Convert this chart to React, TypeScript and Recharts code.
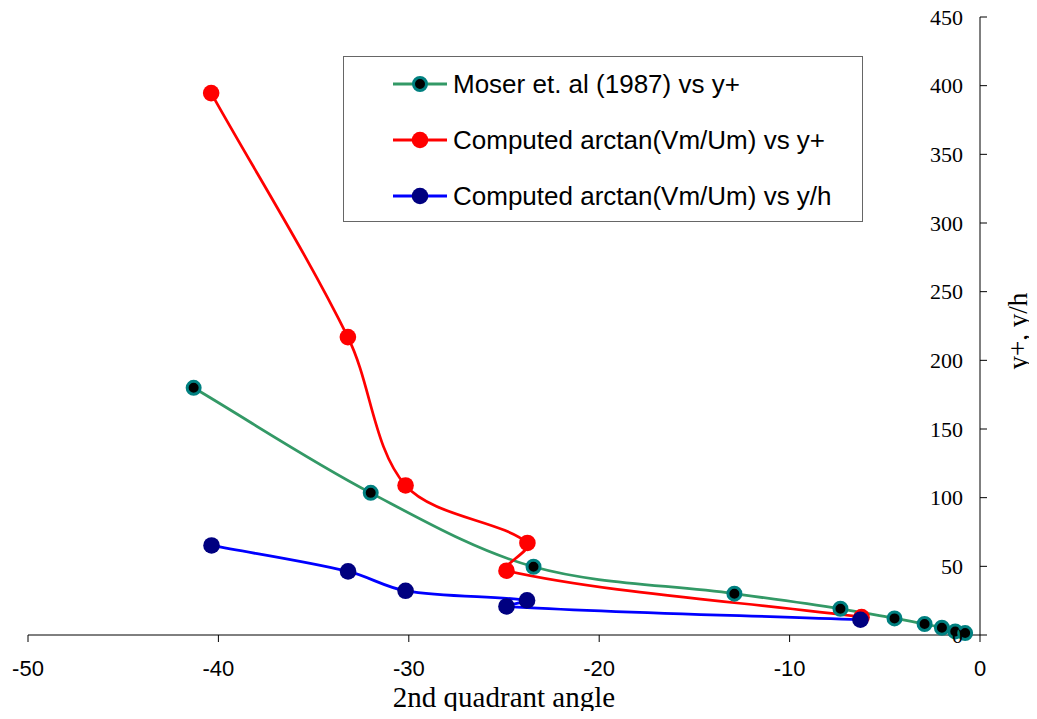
import React from 'react';
import { ComposedChart, Line, XAxis, YAxis, Legend } from 'recharts';

// angle (deg) vs y+ / y/h
const moserAngle = [-41.3, -32.0, -23.45, -12.9, -7.33, -4.49, -2.91, -2.0, -1.3, -0.78];
const moserY = [180, 103.5, 49.7, 30.1, 19.1, 12.1, 8.0, 5.3, 2.6, 1.4];

const plusAngle = [-40.38, -33.2, -30.17, -23.77, -24.87, -6.22];
const plusY = [394.6, 216.9, 108.9, 67, 46.8, 13];

const hAngle = [-40.36, -33.19, -30.17, -23.79, -24.87, -6.28];
const hY = [65.2, 46.3, 32.2, 25.2, 20.8, 11.1];

const xTicks = [-50, -40, -30, -20, -10, 0];
const yTicks = [0, 50, 100, 150, 200, 250, 300, 350, 400, 450];

const toPoints = (xs: number[], ys: number[]) => xs.map((x, i) => ({ x, y: ys[i] }));

const SERIES = [
  {
    name: 'Moser et. al (1987) vs y+',
    data: toPoints(moserAngle, moserY),
    line: '#339966',
    dot: { r: 6.5, fill: '#000000', stroke: '#008080', strokeWidth: 3 },
  },
  {
    name: 'Computed arctan(Vm/Um) vs y+',
    data: toPoints(plusAngle, plusY),
    line: '#ff0000',
    dot: { r: 8.3, fill: '#ff0000', stroke: 'none', strokeWidth: 0 },
  },
  {
    name: 'Computed arctan(Vm/Um) vs y/h',
    data: toPoints(hAngle, hY),
    line: '#0000ff',
    dot: { r: 8.3, fill: '#000080', stroke: 'none', strokeWidth: 0 },
  },
];

const SERIF = "'Liberation Serif', 'Times New Roman', serif";
const SANS = "'Liberation Sans', Arial, sans-serif";

// smoothed line through the points; tangents are scaled by segment length
// so that short back-tracking segments don't loop
function smoothCurve(context: any) {
  let pts: number[][] = [];
  const dist = (a: number[], b: number[]) => Math.hypot(b[0] - a[0], b[1] - a[1]);
  return {
    areaStart() {},
    areaEnd() {},
    lineStart() {
      pts = [];
    },
    point(x: number, y: number) {
      pts.push([+x, +y]);
    },
    lineEnd() {
      if (!pts.length) return;
      const n = pts.length;
      context.moveTo(pts[0][0], pts[0][1]);
      for (let i = 0; i < n - 1; i++) {
        const p0 = pts[Math.max(i - 1, 0)];
        const p1 = pts[i];
        const p2 = pts[i + 1];
        const p3 = pts[Math.min(i + 2, n - 1)];
        const seg = dist(p1, p2);
        const s1 = seg / ((dist(p0, p1) + seg) || 1) / 3;
        const s2 = seg / ((seg + dist(p2, p3)) || 1) / 3;
        context.bezierCurveTo(
          p1[0] + (p2[0] - p0[0]) * s1,
          p1[1] + (p2[1] - p0[1]) * s1,
          p2[0] - (p3[0] - p1[0]) * s2,
          p2[1] - (p3[1] - p1[1]) * s2,
          p2[0],
          p2[1]
        );
      }
    },
  };
}

const YTick = (props: any) => {
  const { x, y, payload } = props;
  return (
    <text x={x - 24} y={y} dy="0.35em" textAnchor="end" fontFamily={SERIF} fontSize={22} fill="#000">
      {payload.value}
    </text>
  );
};

const YTitle = (props: any) => {
  const { viewBox } = props;
  const cx = viewBox.x + 47;
  const cy = 331;
  return (
    <text x={cx} y={cy} transform={`rotate(-90, ${cx}, ${cy})`} textAnchor="middle" fontFamily={SERIF} fontSize={27} fill="#000">
      y+, y/h
    </text>
  );
};

const LegendBox = () => (
  <div style={{ width: 520, height: 166, border: '1px solid #666', background: '#fff', boxSizing: 'border-box' }}>
    <svg width={518} height={164}>
      {SERIES.map((s, i) => {
        const cy = 27 + i * 56;
        return (
          <g key={s.name}>
            <line x1={49} x2={103} y1={cy} y2={cy} stroke={s.line} strokeWidth={3} />
            <circle cx={76} cy={cy} r={s.dot.r} fill={s.dot.fill} stroke={s.dot.stroke} strokeWidth={s.dot.strokeWidth} />
            <text x={109} y={cy} dy="0.36em" fontFamily={SANS} fontSize={26} fill="#000">
              {s.name}
            </text>
          </g>
        );
      })}
    </svg>
  </div>
);

export default function App() {
  return (
    <div style={{ margin: -8, width: 1037, height: 719, background: '#fff' }}>
      <ComposedChart width={1037} height={719} margin={{ top: 17, right: 0, bottom: 0, left: 28 }}>
        <XAxis
          type="number"
          dataKey="x"
          domain={[-50, 0]}
          ticks={xTicks}
          allowDataOverflow
          stroke="#000"
          tickSize={7}
          tickMargin={18}
          height={84}
          tick={{ fill: '#000', fontSize: 22, fontFamily: SANS }}
          label={{
            value: '2nd quadrant angle',
            position: 'insideBottom',
            offset: 12,
            fill: '#000',
            fontSize: 29,
            fontFamily: SERIF,
          }}
        />
        <YAxis
          type="number"
          dataKey="y"
          orientation="right"
          domain={[0, 450]}
          ticks={yTicks}
          width={57}
          stroke="#000"
          tickSize={7}
          tickMargin={0}
          tick={<YTick />}
          label={<YTitle />}
        />
        <Legend
          layout="vertical"
          align="center"
          verticalAlign="middle"
          wrapperStyle={{ left: 343, top: 56, width: 520, height: 166 }}
          content={<LegendBox />}
        />
        {SERIES.map((s) => (
          <Line
            key={s.name}
            name={s.name}
            data={s.data}
            dataKey="y"
            type={smoothCurve as any}
            stroke={s.line}
            strokeWidth={2.75}
            dot={s.dot}
            activeDot={false}
            isAnimationActive={false}
          />
        ))}
      </ComposedChart>
    </div>
  );
}
